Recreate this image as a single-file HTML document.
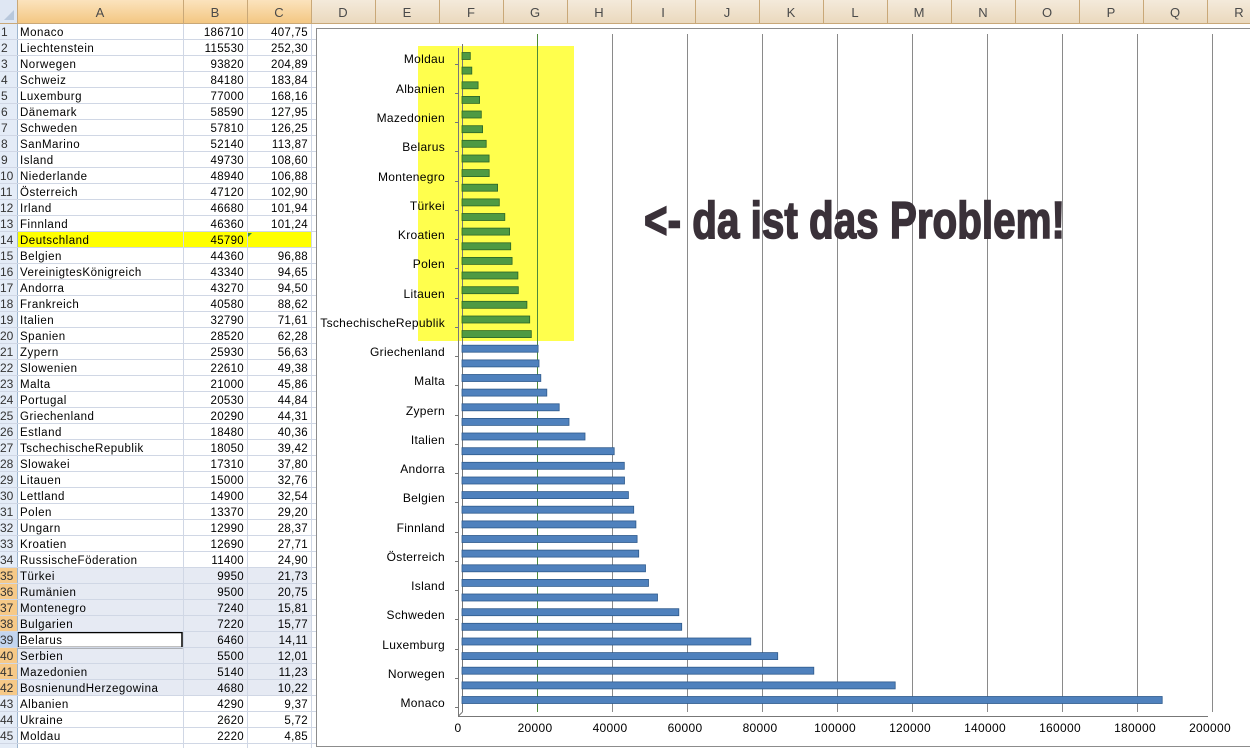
<!DOCTYPE html>
<html><head><meta charset="utf-8"><style>
html,body{margin:0;padding:0;background:#fff;}
svg{display:block;font-family:"Liberation Sans",sans-serif;}
</style></head><body>
<svg width="1250" height="748" viewBox="0 0 1250 748" xmlns="http://www.w3.org/2000/svg">
<defs>
<linearGradient id="hd" x1="0" y1="0" x2="0" y2="1"><stop offset="0" stop-color="#fbe3bd"/><stop offset="1" stop-color="#f3c680"/></linearGradient>
<linearGradient id="hd2" x1="0" y1="0" x2="0" y2="1"><stop offset="0" stop-color="#f4eadb"/><stop offset="1" stop-color="#ead8bc"/></linearGradient>
</defs>
<rect x="0" y="0" width="1250" height="748" fill="#fff"/>
<rect x="0" y="0" width="17" height="24" fill="#dfe7f3"/>
<polygon points="4,20 14,20 14,10" fill="#b8c8dc"/>
<rect x="17" y="0" width="294" height="24" fill="url(#hd)"/>
<rect x="311" y="0" width="939" height="24" fill="url(#hd2)"/>
<g stroke="#c9a878" stroke-width="1">
<line x1="17.5" y1="0" x2="17.5" y2="24"/><line x1="183.5" y1="0" x2="183.5" y2="24"/><line x1="247.5" y1="0" x2="247.5" y2="24"/><line x1="311.5" y1="0" x2="311.5" y2="24"/><line x1="375.5" y1="0" x2="375.5" y2="24"/><line x1="439.5" y1="0" x2="439.5" y2="24"/><line x1="503.5" y1="0" x2="503.5" y2="24"/><line x1="567.5" y1="0" x2="567.5" y2="24"/><line x1="631.5" y1="0" x2="631.5" y2="24"/><line x1="695.5" y1="0" x2="695.5" y2="24"/><line x1="759.5" y1="0" x2="759.5" y2="24"/><line x1="823.5" y1="0" x2="823.5" y2="24"/><line x1="887.5" y1="0" x2="887.5" y2="24"/><line x1="951.5" y1="0" x2="951.5" y2="24"/><line x1="1015.5" y1="0" x2="1015.5" y2="24"/><line x1="1079.5" y1="0" x2="1079.5" y2="24"/><line x1="1143.5" y1="0" x2="1143.5" y2="24"/><line x1="1207.5" y1="0" x2="1207.5" y2="24"/>
<line x1="0" y1="23.5" x2="1250" y2="23.5"/>
</g>
<g font-size="13" fill="#4a4a4a" text-anchor="middle">
<text x="100" y="17">A</text><text x="215" y="17">B</text><text x="279" y="17">C</text><text x="343" y="17">D</text><text x="407" y="17">E</text><text x="471" y="17">F</text><text x="535" y="17">G</text><text x="599" y="17">H</text><text x="663" y="17">I</text><text x="727" y="17">J</text><text x="791" y="17">K</text><text x="855" y="17">L</text><text x="919" y="17">M</text><text x="983" y="17">N</text><text x="1047" y="17">O</text><text x="1111" y="17">P</text><text x="1175" y="17">Q</text><text x="1239" y="17">R</text>
</g>
<rect x="0" y="24" width="17" height="724" fill="#e4ecf7"/>
<rect x="0" y="568" width="17" height="128" fill="#f6c987"/>
<rect x="0" y="632" width="17" height="16" fill="#c3d5ee"/>
<rect x="17" y="232" width="294" height="16" fill="#ffff00"/>
<rect x="17" y="568" width="294" height="128" fill="#e6eaf3"/>
<rect x="17" y="632" width="166" height="16" fill="#fff"/>
<rect x="18" y="632.5" width="164" height="15" fill="none" stroke="#000" stroke-width="1.5"/>
<polygon points="247,233 252,233 247,238" fill="#2e8b3a"/>
<g stroke="#d0d7e5" stroke-width="1">
<line x1="183.5" y1="24" x2="183.5" y2="748"/><line x1="247.5" y1="24" x2="247.5" y2="748"/><line x1="311.5" y1="24" x2="311.5" y2="748"/>
<line x1="17.5" y1="24" x2="17.5" y2="748" stroke="#9eb6ce"/>
<line x1="0" y1="39.5" x2="316" y2="39.5"/><line x1="0" y1="55.5" x2="316" y2="55.5"/><line x1="0" y1="71.5" x2="316" y2="71.5"/><line x1="0" y1="87.5" x2="316" y2="87.5"/><line x1="0" y1="103.5" x2="316" y2="103.5"/><line x1="0" y1="119.5" x2="316" y2="119.5"/><line x1="0" y1="135.5" x2="316" y2="135.5"/><line x1="0" y1="151.5" x2="316" y2="151.5"/><line x1="0" y1="167.5" x2="316" y2="167.5"/><line x1="0" y1="183.5" x2="316" y2="183.5"/><line x1="0" y1="199.5" x2="316" y2="199.5"/><line x1="0" y1="215.5" x2="316" y2="215.5"/><line x1="0" y1="231.5" x2="316" y2="231.5"/><line x1="0" y1="247.5" x2="316" y2="247.5"/><line x1="0" y1="263.5" x2="316" y2="263.5"/><line x1="0" y1="279.5" x2="316" y2="279.5"/><line x1="0" y1="295.5" x2="316" y2="295.5"/><line x1="0" y1="311.5" x2="316" y2="311.5"/><line x1="0" y1="327.5" x2="316" y2="327.5"/><line x1="0" y1="343.5" x2="316" y2="343.5"/><line x1="0" y1="359.5" x2="316" y2="359.5"/><line x1="0" y1="375.5" x2="316" y2="375.5"/><line x1="0" y1="391.5" x2="316" y2="391.5"/><line x1="0" y1="407.5" x2="316" y2="407.5"/><line x1="0" y1="423.5" x2="316" y2="423.5"/><line x1="0" y1="439.5" x2="316" y2="439.5"/><line x1="0" y1="455.5" x2="316" y2="455.5"/><line x1="0" y1="471.5" x2="316" y2="471.5"/><line x1="0" y1="487.5" x2="316" y2="487.5"/><line x1="0" y1="503.5" x2="316" y2="503.5"/><line x1="0" y1="519.5" x2="316" y2="519.5"/><line x1="0" y1="535.5" x2="316" y2="535.5"/><line x1="0" y1="551.5" x2="316" y2="551.5"/><line x1="0" y1="567.5" x2="316" y2="567.5"/><line x1="0" y1="583.5" x2="316" y2="583.5"/><line x1="0" y1="599.5" x2="316" y2="599.5"/><line x1="0" y1="615.5" x2="316" y2="615.5"/><line x1="0" y1="631.5" x2="316" y2="631.5"/><line x1="0" y1="647.5" x2="316" y2="647.5"/><line x1="0" y1="663.5" x2="316" y2="663.5"/><line x1="0" y1="679.5" x2="316" y2="679.5"/><line x1="0" y1="695.5" x2="316" y2="695.5"/><line x1="0" y1="711.5" x2="316" y2="711.5"/><line x1="0" y1="727.5" x2="316" y2="727.5"/><line x1="0" y1="743.5" x2="316" y2="743.5"/>
</g>
<g font-size="12" fill="#333">
<text x="1" y="36">1</text><text x="1" y="52">2</text><text x="1" y="68">3</text><text x="1" y="84">4</text><text x="1" y="100">5</text><text x="1" y="116">6</text><text x="1" y="132">7</text><text x="1" y="148">8</text><text x="1" y="164">9</text>
<text x="0" y="180">10</text><text x="0" y="196">11</text><text x="0" y="212">12</text><text x="0" y="228">13</text><text x="0" y="244">14</text><text x="0" y="260">15</text><text x="0" y="276">16</text><text x="0" y="292">17</text><text x="0" y="308">18</text><text x="0" y="324">19</text><text x="0" y="340">20</text><text x="0" y="356">21</text><text x="0" y="372">22</text><text x="0" y="388">23</text><text x="0" y="404">24</text><text x="0" y="420">25</text><text x="0" y="436">26</text><text x="0" y="452">27</text><text x="0" y="468">28</text><text x="0" y="484">29</text><text x="0" y="500">30</text><text x="0" y="516">31</text><text x="0" y="532">32</text><text x="0" y="548">33</text><text x="0" y="564">34</text><text x="0" y="580">35</text><text x="0" y="596">36</text><text x="0" y="612">37</text><text x="0" y="628">38</text><text x="0" y="644">39</text><text x="0" y="660">40</text><text x="0" y="676">41</text><text x="0" y="692">42</text><text x="0" y="708">43</text><text x="0" y="724">44</text><text x="0" y="740">45</text>
</g>
<g font-size="11.5" fill="#000" letter-spacing="0.5">
<text x="20" y="36">Monaco</text><text x="20" y="52">Liechtenstein</text><text x="20" y="68">Norwegen</text><text x="20" y="84">Schweiz</text><text x="20" y="100">Luxemburg</text><text x="20" y="116">Dänemark</text><text x="20" y="132">Schweden</text><text x="20" y="148">SanMarino</text><text x="20" y="164">Island</text><text x="20" y="180">Niederlande</text><text x="20" y="196">Österreich</text><text x="20" y="212">Irland</text><text x="20" y="228">Finnland</text><text x="20" y="244">Deutschland</text><text x="20" y="260">Belgien</text><text x="20" y="276">VereinigtesKönigreich</text><text x="20" y="292">Andorra</text><text x="20" y="308">Frankreich</text><text x="20" y="324">Italien</text><text x="20" y="340">Spanien</text><text x="20" y="356">Zypern</text><text x="20" y="372">Slowenien</text><text x="20" y="388">Malta</text><text x="20" y="404">Portugal</text><text x="20" y="420">Griechenland</text><text x="20" y="436">Estland</text><text x="20" y="452">TschechischeRepublik</text><text x="20" y="468">Slowakei</text><text x="20" y="484">Litauen</text><text x="20" y="500">Lettland</text><text x="20" y="516">Polen</text><text x="20" y="532">Ungarn</text><text x="20" y="548">Kroatien</text><text x="20" y="564">RussischeFöderation</text><text x="20" y="580">Türkei</text><text x="20" y="596">Rumänien</text><text x="20" y="612">Montenegro</text><text x="20" y="628">Bulgarien</text><text x="20" y="644">Belarus</text><text x="20" y="660">Serbien</text><text x="20" y="676">Mazedonien</text><text x="20" y="692">BosnienundHerzegowina</text><text x="20" y="708">Albanien</text><text x="20" y="724">Ukraine</text><text x="20" y="740">Moldau</text>
</g>
<g font-size="11.5" fill="#000" text-anchor="end" letter-spacing="0.3">
<text x="244" y="36">186710</text><text x="244" y="52">115530</text><text x="244" y="68">93820</text><text x="244" y="84">84180</text><text x="244" y="100">77000</text><text x="244" y="116">58590</text><text x="244" y="132">57810</text><text x="244" y="148">52140</text><text x="244" y="164">49730</text><text x="244" y="180">48940</text><text x="244" y="196">47120</text><text x="244" y="212">46680</text><text x="244" y="228">46360</text><text x="244" y="244">45790</text><text x="244" y="260">44360</text><text x="244" y="276">43340</text><text x="244" y="292">43270</text><text x="244" y="308">40580</text><text x="244" y="324">32790</text><text x="244" y="340">28520</text><text x="244" y="356">25930</text><text x="244" y="372">22610</text><text x="244" y="388">21000</text><text x="244" y="404">20530</text><text x="244" y="420">20290</text><text x="244" y="436">18480</text><text x="244" y="452">18050</text><text x="244" y="468">17310</text><text x="244" y="484">15000</text><text x="244" y="500">14900</text><text x="244" y="516">13370</text><text x="244" y="532">12990</text><text x="244" y="548">12690</text><text x="244" y="564">11400</text><text x="244" y="580">9950</text><text x="244" y="596">9500</text><text x="244" y="612">7240</text><text x="244" y="628">7220</text><text x="244" y="644">6460</text><text x="244" y="660">5500</text><text x="244" y="676">5140</text><text x="244" y="692">4680</text><text x="244" y="708">4290</text><text x="244" y="724">2620</text><text x="244" y="740">2220</text>
<text x="308" y="36">407,75</text><text x="308" y="52">252,30</text><text x="308" y="68">204,89</text><text x="308" y="84">183,84</text><text x="308" y="100">168,16</text><text x="308" y="116">127,95</text><text x="308" y="132">126,25</text><text x="308" y="148">113,87</text><text x="308" y="164">108,60</text><text x="308" y="180">106,88</text><text x="308" y="196">102,90</text><text x="308" y="212">101,94</text><text x="308" y="228">101,24</text><text x="308" y="260">96,88</text><text x="308" y="276">94,65</text><text x="308" y="292">94,50</text><text x="308" y="308">88,62</text><text x="308" y="324">71,61</text><text x="308" y="340">62,28</text><text x="308" y="356">56,63</text><text x="308" y="372">49,38</text><text x="308" y="388">45,86</text><text x="308" y="404">44,84</text><text x="308" y="420">44,31</text><text x="308" y="436">40,36</text><text x="308" y="452">39,42</text><text x="308" y="468">37,80</text><text x="308" y="484">32,76</text><text x="308" y="500">32,54</text><text x="308" y="516">29,20</text><text x="308" y="532">28,37</text><text x="308" y="548">27,71</text><text x="308" y="564">24,90</text><text x="308" y="580">21,73</text><text x="308" y="596">20,75</text><text x="308" y="612">15,81</text><text x="308" y="628">15,77</text><text x="308" y="644">14,11</text><text x="308" y="660">12,01</text><text x="308" y="676">11,23</text><text x="308" y="692">10,22</text><text x="308" y="708">9,37</text><text x="308" y="724">5,72</text><text x="308" y="740">4,85</text>
</g>
<rect x="316.5" y="28.5" width="940" height="718" fill="#fff" stroke="#8c8c8c"/>
<rect x="418" y="46" width="156" height="295" fill="#ffff4d"/>
<g stroke="#8a8a8a" stroke-width="1">
<line x1="537.5" y1="34" x2="537.5" y2="712" stroke="#4e8a3a"/>
<line x1="612.5" y1="34" x2="612.5" y2="712"/><line x1="687.5" y1="34" x2="687.5" y2="712"/><line x1="762.5" y1="34" x2="762.5" y2="712"/><line x1="837.5" y1="34" x2="837.5" y2="712"/><line x1="912.5" y1="34" x2="912.5" y2="712"/><line x1="987.5" y1="34" x2="987.5" y2="712"/><line x1="1062.5" y1="34" x2="1062.5" y2="712"/><line x1="1137.5" y1="34" x2="1137.5" y2="712"/><line x1="1212.5" y1="34" x2="1212.5" y2="712"/>
</g>
<g stroke="#777" stroke-width="1">
<line x1="462.5" y1="44" x2="462.5" y2="712"/><line x1="458.5" y1="48" x2="458.5" y2="716"/>
<line x1="458" y1="716.5" x2="1208" y2="716.5"/><line x1="458.5" y1="716" x2="462.5" y2="712"/>
</g>
<g stroke="#777">
<line x1="455" y1="707.5" x2="459" y2="707.5"/><line x1="455" y1="678.5" x2="459" y2="678.5"/><line x1="455" y1="649.5" x2="459" y2="649.5"/><line x1="455" y1="619.5" x2="459" y2="619.5"/><line x1="455" y1="590.5" x2="459" y2="590.5"/><line x1="455" y1="561.5" x2="459" y2="561.5"/><line x1="455" y1="532.5" x2="459" y2="532.5"/><line x1="455" y1="502.5" x2="459" y2="502.5"/><line x1="455" y1="473.5" x2="459" y2="473.5"/><line x1="455" y1="444.5" x2="459" y2="444.5"/><line x1="455" y1="415.5" x2="459" y2="415.5"/><line x1="455" y1="385.5" x2="459" y2="385.5"/><line x1="455" y1="356.5" x2="459" y2="356.5"/><line x1="455" y1="327.5" x2="459" y2="327.5"/><line x1="455" y1="298.5" x2="459" y2="298.5"/><line x1="455" y1="268.5" x2="459" y2="268.5"/><line x1="455" y1="239.5" x2="459" y2="239.5"/><line x1="455" y1="210.5" x2="459" y2="210.5"/><line x1="455" y1="181.5" x2="459" y2="181.5"/><line x1="455" y1="151.5" x2="459" y2="151.5"/><line x1="455" y1="122.5" x2="459" y2="122.5"/><line x1="455" y1="93.5" x2="459" y2="93.5"/><line x1="455" y1="64.5" x2="459" y2="64.5"/>
</g>
<g fill="#4f81bd" stroke="#2f5a8c" stroke-width="0.8">
<rect x="462" y="696.5" width="700.2" height="7"/><rect x="462" y="681.9" width="433.2" height="7"/><rect x="462" y="667.2" width="351.8" height="7"/><rect x="462" y="652.6" width="315.7" height="7"/><rect x="462" y="638" width="288.8" height="7"/><rect x="462" y="623.3" width="219.7" height="7"/><rect x="462" y="608.7" width="216.8" height="7"/><rect x="462" y="594" width="195.5" height="7"/><rect x="462" y="579.4" width="186.5" height="7"/><rect x="462" y="564.8" width="183.5" height="7"/><rect x="462" y="550.1" width="176.7" height="7"/><rect x="462" y="535.5" width="175.1" height="7"/><rect x="462" y="520.9" width="173.9" height="7"/><rect x="462" y="506.2" width="171.7" height="7"/><rect x="462" y="491.6" width="166.4" height="7"/><rect x="462" y="477" width="162.5" height="7"/><rect x="462" y="462.3" width="162.3" height="7"/><rect x="462" y="447.7" width="152.2" height="7"/><rect x="462" y="433" width="123" height="7"/><rect x="462" y="418.4" width="107" height="7"/><rect x="462" y="403.8" width="97.2" height="7"/><rect x="462" y="389.1" width="84.8" height="7"/><rect x="462" y="374.5" width="78.8" height="7"/><rect x="462" y="359.9" width="77" height="7"/><rect x="462" y="345.2" width="76.1" height="7"/>
</g>
<g fill="#4f9a43" stroke="#2c6526" stroke-width="0.8">
<rect x="462" y="330.6" width="69.3" height="7"/><rect x="462" y="316" width="67.7" height="7"/><rect x="462" y="301.3" width="64.9" height="7"/><rect x="462" y="286.7" width="56.3" height="7"/><rect x="462" y="272" width="55.9" height="7"/><rect x="462" y="257.4" width="50.1" height="7"/><rect x="462" y="242.8" width="48.7" height="7"/><rect x="462" y="228.1" width="47.6" height="7"/><rect x="462" y="213.5" width="42.8" height="7"/><rect x="462" y="198.9" width="37.3" height="7"/><rect x="462" y="184.2" width="35.6" height="7"/><rect x="462" y="169.6" width="27.2" height="7"/><rect x="462" y="155" width="27.1" height="7"/><rect x="462" y="140.3" width="24.2" height="7"/><rect x="462" y="125.7" width="20.6" height="7"/><rect x="462" y="111" width="19.3" height="7"/><rect x="462" y="96.4" width="17.6" height="7"/><rect x="462" y="81.8" width="16.1" height="7"/><rect x="462" y="67.1" width="9.8" height="7"/><rect x="462" y="52.5" width="8.3" height="7"/>
</g>
<g font-size="12" fill="#000" text-anchor="end" letter-spacing="0.3">
<text x="445" y="707">Monaco</text><text x="445" y="678">Norwegen</text><text x="445" y="649">Luxemburg</text><text x="445" y="619">Schweden</text><text x="445" y="590">Island</text><text x="445" y="561">Österreich</text><text x="445" y="532">Finnland</text><text x="445" y="502">Belgien</text><text x="445" y="473">Andorra</text><text x="445" y="444">Italien</text><text x="445" y="415">Zypern</text><text x="445" y="385">Malta</text><text x="445" y="356">Griechenland</text><text x="445" y="327">TschechischeRepublik</text><text x="445" y="298">Litauen</text><text x="445" y="268">Polen</text><text x="445" y="239">Kroatien</text><text x="445" y="210">Türkei</text><text x="445" y="181">Montenegro</text><text x="445" y="151">Belarus</text><text x="445" y="122">Mazedonien</text><text x="445" y="93">Albanien</text><text x="445" y="63">Moldau</text>
</g>
<g font-size="12" fill="#000" text-anchor="middle" letter-spacing="0.3">
<text x="458" y="732">0</text><text x="535" y="732">20000</text><text x="610" y="732">40000</text><text x="685" y="732">60000</text><text x="760" y="732">80000</text><text x="835" y="732">100000</text><text x="910" y="732">120000</text><text x="985" y="732">140000</text><text x="1060" y="732">160000</text><text x="1135" y="732">180000</text><text x="1210" y="732">200000</text>
</g>
<text x="644" y="238" font-size="52" font-weight="bold" fill="#3a3139" stroke="#3a3139" stroke-width="1.6" textLength="421" lengthAdjust="spacingAndGlyphs">&lt;- da ist das Problem!</text>
</svg>
</body></html>
